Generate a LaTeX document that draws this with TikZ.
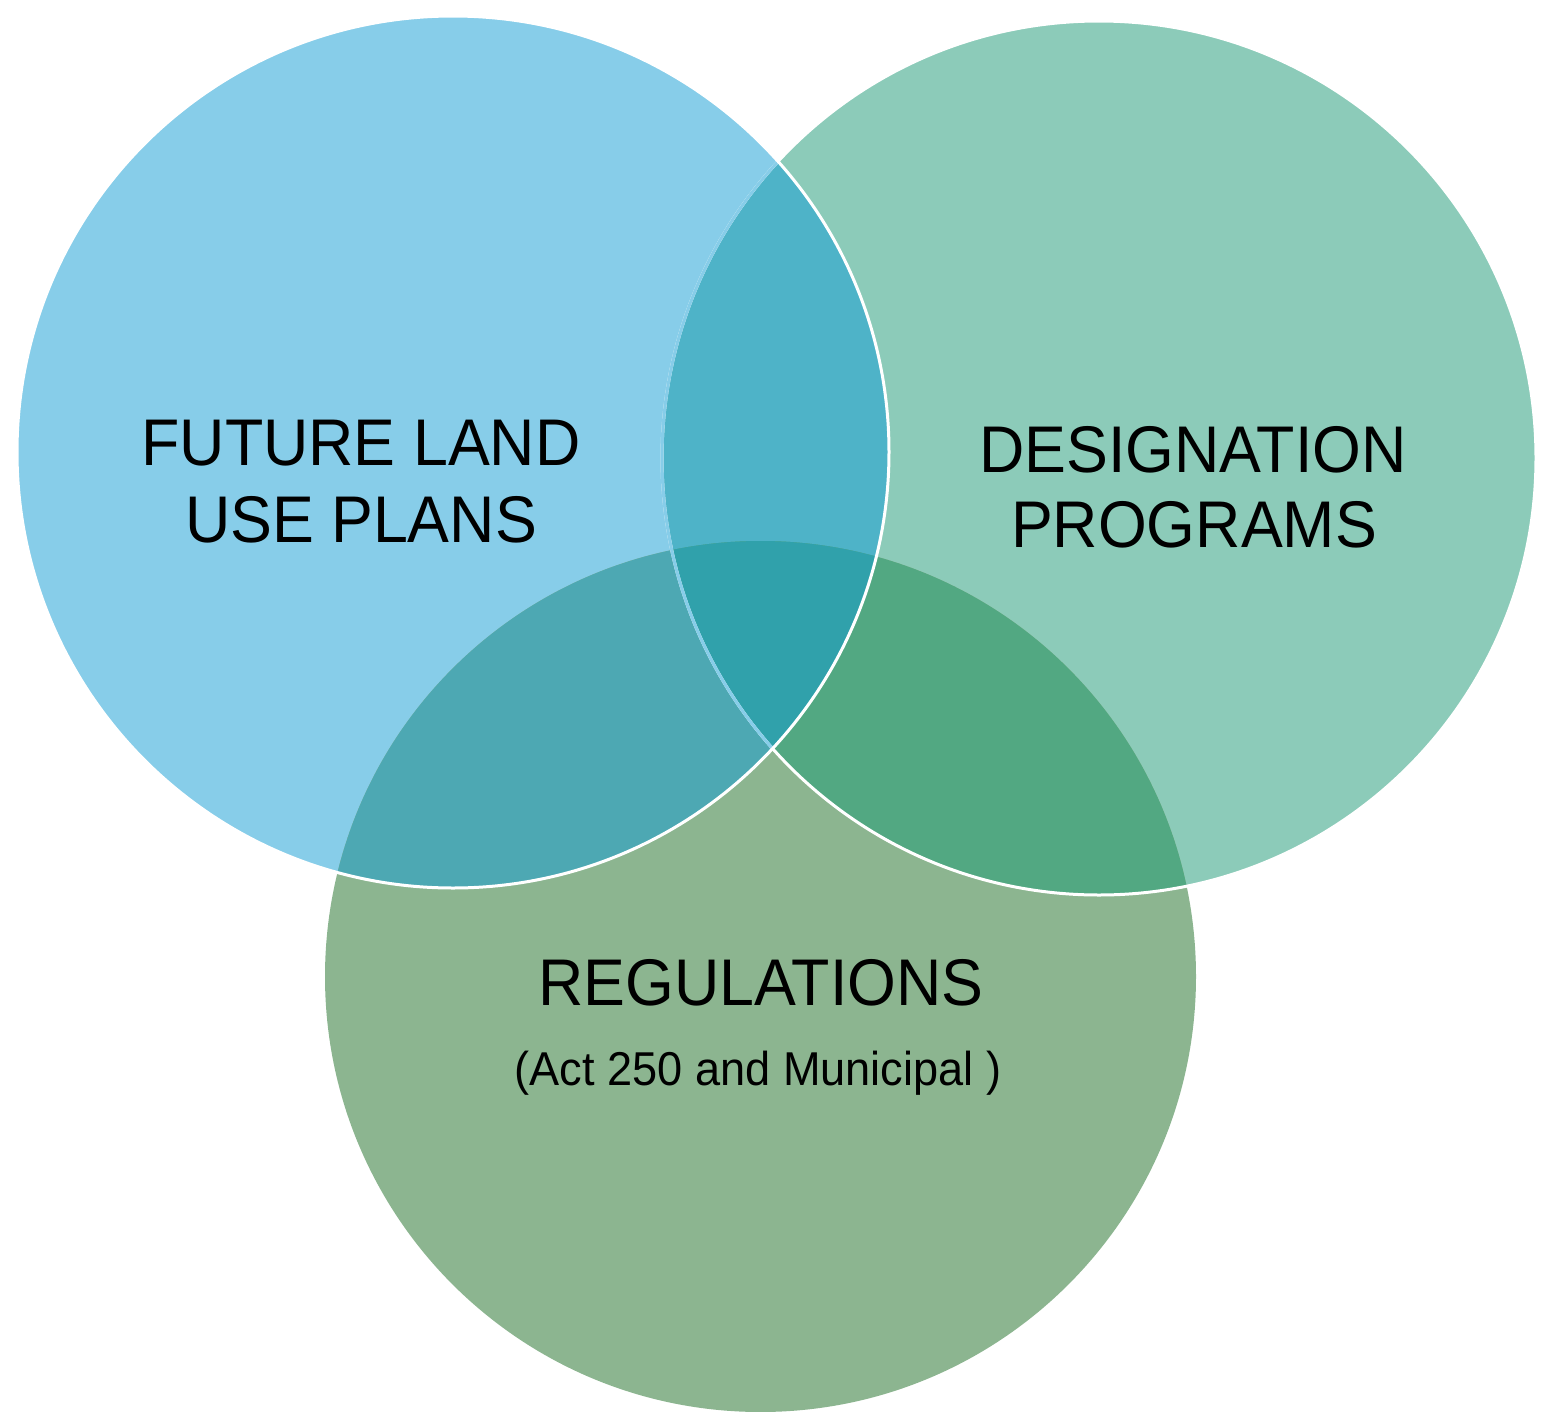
\documentclass[tikz,border=0pt]{standalone}
\usepackage{fontspec}
\setmainfont[FakeStretch=0.95]{Liberation Sans}
\definecolor{cblue}{HTML}{87CDE9}
\definecolor{cteal}{HTML}{8CCBB9}
\definecolor{cgreen}{HTML}{8CB590}
\definecolor{cab}{HTML}{4EB3C8}
\definecolor{cac}{HTML}{4DA8B3}
\definecolor{cbc}{HTML}{52A882}
\definecolor{cabc}{HTML}{30A1AB}
\tikzset{
  bigtext/.style={font=\fontsize{66}{77}\selectfont, inner sep=0pt, anchor=base, text=black},
  smalltext/.style={font=\fontsize{47.5}{54}\selectfont, inner sep=0pt, anchor=base, text=black},
  rim/.style={line width=3pt}
}
\def\cA{(453,452) circle[radius=436]}
\def\cB{(1099,458) circle[radius=437]}
\def\cC{(760.5,976.5) circle[radius=435.5]}
\begin{document}
\begin{tikzpicture}[x=1pt,y=-1pt]
\useasboundingbox (0,0) rectangle (1542,1411);
% base fills
\fill[cblue] \cA;
\fill[cteal] \cB;
\fill[cgreen] \cC;
% pairwise overlaps
\begin{scope}\clip \cA; \fill[cab] \cB; \end{scope}
\begin{scope}\clip \cA; \fill[cac] \cC; \end{scope}
\begin{scope}\clip \cB; \fill[cbc] \cC; \end{scope}
% triple overlap
\begin{scope}\clip \cA; \clip \cB; \fill[cabc] \cC; \end{scope}
% outlines
\draw[rim, white] \cB;
\begin{scope}\clip \cA; \draw[rim, cblue] \cB; \end{scope}
\draw[rim, white] \cA;
% labels
\node[bigtext] (fl1) at (361,465) {FUTURE LAND};
\node[bigtext] (fl2) at (361,542) {USE PLANS};
\node[bigtext] (dp1) at (1193,472) {DESIGNATION};
\node[bigtext] (dp2) at (1194,547) {PROGRAMS};
\node[bigtext] (rg1) at (761,1005) {REGULATIONS};
\node[smalltext] (rg2) at (758,1085) {(Act 250 and Municipal )};
\end{tikzpicture}
\end{document}
